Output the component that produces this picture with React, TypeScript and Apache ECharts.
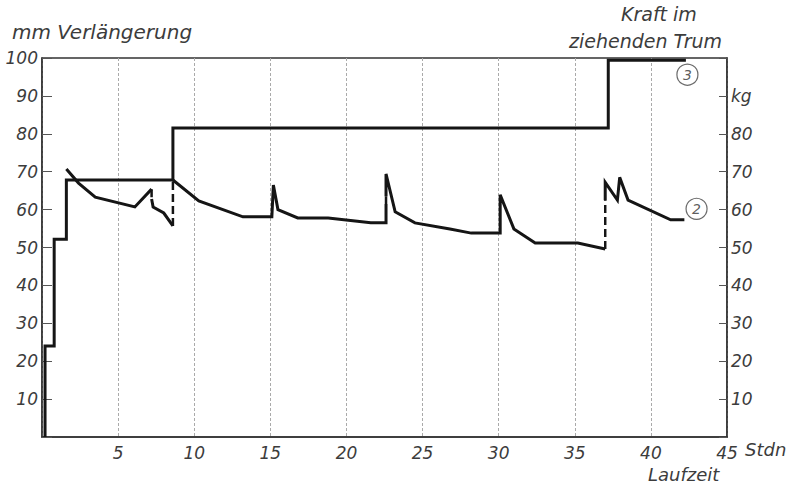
import React, { useEffect, useRef } from "react";
import * as echarts from "echarts";

// Hours (Laufzeit) axis ticks
const hourTicks = [0, 5, 10, 15, 20, 25, 30, 35, 40, 45];
// Curve 3: Kraft im ziehenden Trum (kg) – step line [hour, kg]
const forceCurve: [number, number][] = [
  [0.2, 0], [0.2, 24], [0.8, 24], [0.8, 52.2], [1.6, 52.2], [1.6, 67.8],
  [8.6, 67.8], [8.6, 81.5], [37.2, 81.5], [37.2, 99.4], [42.3, 99.4],
];
// Curve 2: mm Verlängerung – solid segments [hour, mm]
const elongSegA: [number, number][] = [
  [1.6, 70.7], [2.4, 67], [3.5, 63.3], [6.1, 60.7], [7.2, 65.4],
];
const elongSegB: [number, number][] = [
  [7.2, 62.8], [7.3, 60.7], [8.0, 59.1], [8.6, 55.7],
];
const elongSegC: [number, number][] = [
  [8.6, 67.8], [10.3, 62.3], [13.2, 58.1], [15.1, 58.1], [15.2, 66.5], [15.5, 60],
  [16.8, 57.8], [18.8, 57.8], [21.6, 56.5], [22.6, 56.5], [22.6, 61.5],
];
const elongSegD: [number, number][] = [
  [22.6, 63.5], [22.6, 69.4], [23.2, 59.4], [24.5, 56.5], [26.8, 54.9], [28.2, 53.8],
  [30.1, 53.8], [30.1, 63.9], [31.0, 54.9], [32.4, 51.2], [35.2, 51.2], [37.0, 49.6],
];
const elongSegE: [number, number][] = [
  [37.0, 62.5], [37.0, 67.2], [37.8, 62.5], [37.95, 68.5], [38.5, 62.5], [41.3, 57.3], [42.2, 57.3],
];
// Dashed vertical jumps of curve 2 [hour, from, to]
const elongJumps: [number, number, number][] = [
  [7.2, 65.4, 62.8],
  [8.6, 55.7, 67.8],
  [22.6, 61.5, 63.5],
  [37.0, 49.6, 62.5],
];
// Curve markers (circled numbers) [hour, value, label]
const curveMarks: [number, number, string][] = [
  [43.0, 60.2, "2"],
  [42.4, 95.6, "3"],
];

const INK = "#151515";
const TEXT = "#3c3c3c";
const FONT = "DejaVu Sans";

export default function App() {
  const ref = useRef<HTMLDivElement>(null);
  useEffect(() => {
    if (!ref.current) return;
    document.body.style.margin = "0";
    const chart = echarts.init(ref.current, undefined, { renderer: "svg" });
    const lineBase = {
      type: "line" as const,
      symbol: "none",
      silent: true,
      lineStyle: { color: INK, width: 3, join: "miter" as const },
    };
    const segs = [elongSegA, elongSegB, elongSegC, elongSegD, elongSegE];
    const series: any[] = [
      { ...lineBase, name: "Kraft", data: forceCurve, z: 3 },
      ...segs.map((s) => ({ ...lineBase, data: s, z: 4 })),
      ...elongJumps.map(([h, a, b]) => ({
        ...lineBase,
        data: [[h, a], [h, b]],
        lineStyle: { color: INK, width: 2.5, type: [8, 4] },
        z: 4,
      })),
      {
        type: "scatter",
        silent: true,
        data: curveMarks.map(([h, v, t]) => ({ value: [h, v], name: t })),
        symbol: "circle",
        symbolSize: 21,
        itemStyle: { color: "rgba(0,0,0,0)", borderColor: "#444", borderWidth: 1.2 },
        label: {
          show: true,
          position: "inside",
          formatter: (p: any) => p.name,
          color: "#333",
          fontFamily: FONT,
          fontStyle: "italic",
          fontSize: 14,
        },
        z: 5,
      },
    ];
    const axisLabelStyle = {
      color: TEXT,
      fontFamily: FONT,
      fontStyle: "italic" as const,
      fontSize: 17,
    };
    chart.setOption({
      animation: false,
      backgroundColor: "#fff",
      grid: {
        left: 42,
        right: 72,
        top: 58,
        bottom: 51,
        show: true,
        borderColor: "#333",
        borderWidth: 1.5,
        backgroundColor: "transparent",
      },
      xAxis: {
        type: "value",
        min: hourTicks[0],
        max: hourTicks[hourTicks.length - 1],
        interval: 5,
        axisLine: { show: true, lineStyle: { color: "#333", width: 1.5 } },
        axisTick: { show: false },
        axisLabel: {
          ...axisLabelStyle,
          margin: 7,
          formatter: (v: number) => (v === 0 ? "" : String(v)),
        },
        splitLine: { show: true, lineStyle: { color: "#aaa", width: 1, type: [3, 2] } },
      },
      yAxis: [
        {
          type: "value",
          min: 0,
          max: 100,
          interval: 10,
          position: "left",
          axisLine: { show: true, lineStyle: { color: "#333", width: 1.5 } },
          axisTick: { show: true, inside: true, length: 10, lineStyle: { color: "#555" } },
          axisLabel: {
            ...axisLabelStyle,
            margin: 4,
            formatter: (v: number) => (v === 0 ? "" : String(v)),
          },
          splitLine: { show: false },
        },
        {
          type: "value",
          min: 0,
          max: 100,
          interval: 10,
          position: "right",
          axisLine: { show: true, lineStyle: { color: "#333", width: 1.5 } },
          axisTick: { show: true, inside: true, length: 8, lineStyle: { color: "#555" } },
          axisLabel: {
            ...axisLabelStyle,
            margin: 4,
            formatter: (v: number) =>
              v === 0 || v === 100 ? "" : v === 90 ? "kg" : String(v),
          },
          splitLine: { show: false },
        },
      ],
      graphic: [
        {
          type: "text",
          left: 12,
          top: 22,
          style: { text: "mm Verlängerung", fill: TEXT, font: `italic 20px "${FONT}"` },
        },
        {
          type: "text",
          left: 621,
          top: 4,
          style: { text: "Kraft im", fill: TEXT, font: `italic 19px "${FONT}"` },
        },
        {
          type: "text",
          left: 569,
          top: 31,
          style: { text: "ziehenden Trum", fill: TEXT, font: `italic 19px "${FONT}"` },
        },
        {
          type: "text",
          left: 745,
          top: 440,
          style: { text: "Stdn", fill: TEXT, font: `italic 18px "${FONT}"` },
        },
        {
          type: "text",
          left: 648,
          top: 465,
          style: { text: "Laufzeit", fill: TEXT, font: `italic 18px "${FONT}"` },
        },
      ],
      series,
    });
    return () => chart.dispose();
  }, []);
  return <div ref={ref} style={{ width: 799, height: 488 }} />;
}
